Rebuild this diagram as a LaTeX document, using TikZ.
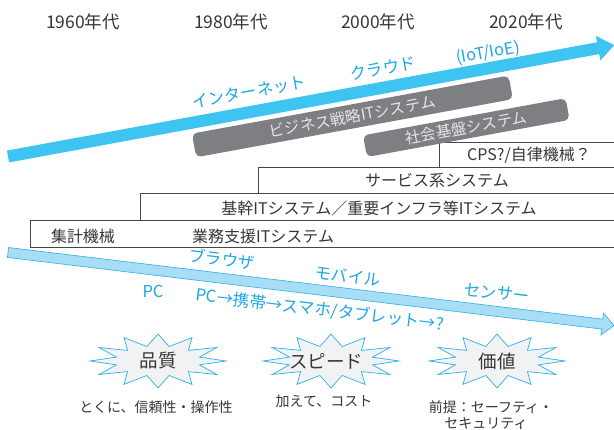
\documentclass[tikz,border=0pt]{standalone}
\usepackage{fontspec}
\setmainfont{Noto Sans CJK JP}
\usetikzlibrary{calc}
\definecolor{topcyan}{RGB}{62,196,240}
\definecolor{labcyan}{RGB}{30,168,226}
\definecolor{lowfill}{RGB}{168,221,246}
\definecolor{lowline}{RGB}{45,174,230}
\definecolor{boxgray}{RGB}{126,127,131}
\definecolor{txtdark}{RGB}{55,55,55}
\definecolor{stairline}{RGB}{70,70,70}
\definecolor{starfill}{RGB}{241,242,243}
\definecolor{starline}{RGB}{43,176,232}
\newcommand\fsz[1]{\fontsize{#1pt}{#1pt}\selectfont}
\begin{document}
\begin{tikzpicture}[x=1pt,y=-1pt,
  year/.style={font=\fsz{17.5}, text=txtdark, inner sep=0pt},
  stairbox/.style={draw=stairline, line width=0.8pt, fill=white, anchor=north west, inner sep=0pt},
  stairtext/.style={font=\fsz{16}, text=txtdark, inner sep=0pt},
  grayshape/.style={fill=boxgray, rounded corners=5pt},
  graytext/.style={inner sep=0pt, text=white!90!black, font=\fsz{15.5}, rotate=10.4},
  uplabel/.style={font=\fsz{16.5}, text=labcyan, inner sep=0pt, rotate=10.4},
  lowlabel/.style={font=\fsz{16.5}, text=labcyan, inner sep=0pt, rotate=-6.9},
  burst/.style={fill=starfill, draw=starline, line width=0.7pt, line join=miter},
  burstlabel/.style={font=\fsz{18.5}, text=txtdark, inner sep=0pt},
  caption/.style={font=\fsz{14}, text=txtdark, inner sep=0pt, align=center}]
\useasboundingbox (0,0) rectangle (614,430);
\fill[white] (0,0) rectangle (614,430);

% years
\node[year] (y1) at (83,22) {1960年代};
\node[year] (y2) at (231,22) {1980年代};
\node[year] (y3) at (378,22) {2000年代};
\node[year] (y4) at (526,22) {2020年代};

% top arrow
\begin{scope}[shift={(8,156.5)}, rotate=10.4]
  \fill[topcyan] (0,-6) -- (600,-6) -- (600,-12.5) -- (616.5,0) -- (600,12.5) -- (600,6) -- (0,6) -- cycle;
\end{scope}
\node[uplabel] (inet) at (249,92) {インターネット};
\node[uplabel] (cloud) at (383,68) {クラウド};
\node[uplabel] (iot) at (488,53) {(IoT/IoE)};

% staircase boxes
\node[stairbox, minimum width=186, minimum height=25] (b4) at (439,142) {};
\node[stairbox, minimum width=367, minimum height=26] (b3) at (258,167) {};
\node[stairbox, minimum width=485, minimum height=27] (b2) at (140,193) {};
\node[stairbox, minimum width=595, minimum height=27] (b1) at (30,220) {};
\node[stairtext] (t4) at (529,155.5) {CPS?/自律機械？};
\node[stairtext] (t3) at (437,181) {サービス系システム};
\node[stairtext] (t2) at (379,208) {基幹ITシステム／重要インフラ等ITシステム};
\node[stairtext] (t1a) at (83,236) {集計機械};
\node[stairtext, anchor=west] (t1b) at (192,236) {業務支援ITシステム};

% gray rotated boxes
\begin{scope}[shift={(352.4,116.4)}, rotate=10.4]
  \fill[grayshape] (-161,-12) rectangle (161,12);
\end{scope}
\node[graytext] (biz) at (352.4,116.4) {ビジネス戦略ITシステム};
\begin{scope}[shift={(466.3,127.6)}, rotate=10.4]
  \fill[grayshape] (-103,-11) rectangle (103,11);
\end{scope}
\node[graytext] (soc) at (466.3,127.6) {社会基盤システム};

% bottom arrow
\begin{scope}[shift={(8,252.5)}, rotate=-6.87]
  \draw[fill=lowfill, draw=lowline, line width=0.6pt] (0,-5) -- (598.5,-5) -- (598.5,-11) -- (610.4,0) -- (598.5,11) -- (598.5,5) -- (0,5) -- cycle;
\end{scope}
\node[lowlabel] (brw) at (222,259) {ブラウザ};
\node[lowlabel] (mob) at (348,276) {モバイル};
\node[lowlabel] (sen) at (497,293) {センサー};
\node[font=\fsz{16.5}, text=labcyan, inner sep=0pt] (pc) at (153,291) {PC};
\node[lowlabel] (dev) at (320,310) {PC→携帯→スマホ/タブレット→?};

% starbursts
\foreach \n/\cx in {s1/158, s2/331, s3/497}{
  \coordinate (\n) at (\cx,361);
  \begin{scope}[shift={(\n)}]
    \draw[burst] (90:68pt and 27pt)
      \foreach \k in {0,...,11}{ -- ({90+\k*30+15}:43pt and 15pt) -- ({90+\k*30+30}:68pt and 27pt) } -- cycle;
  \end{scope}
}
\node[burstlabel] (q1) at (s1) {品質};
\node[burstlabel] (q2) at ($(s2)+(-5,0)$) {スピード};
\node[burstlabel] (q3) at (s3) {価値};

% captions
\node[caption] (c1) at (156,407) {とくに、信頼性・操作性};
\node[caption] (c2) at (324,401) {加えて、コスト};
\node[caption] (c3a) at (491,407) {前提：セーフティ・};
\node[caption] (c3b) at (486,424) {セキュリティ};
\end{tikzpicture}
\end{document}
